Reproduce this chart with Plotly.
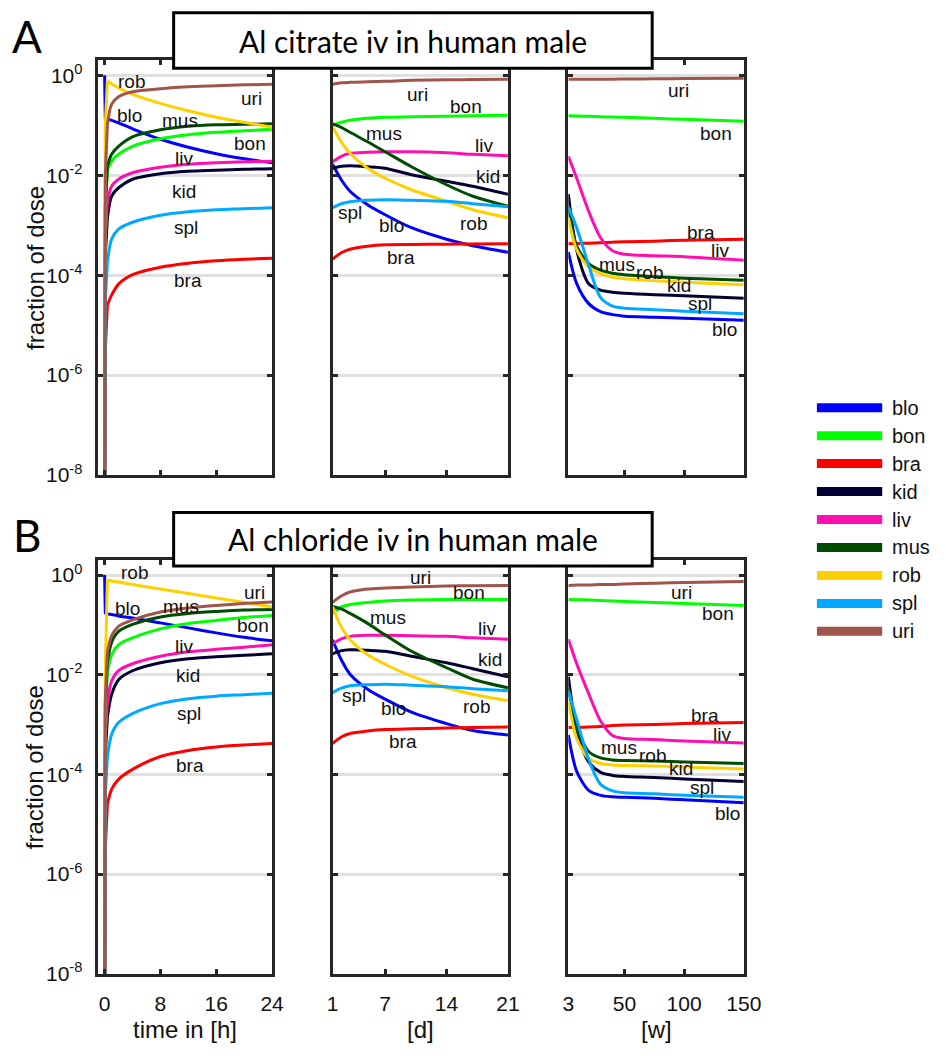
import plotly.graph_objects as go

# ---------------------------------------------------------------------------
# Data: log10 of the fraction of the dose in each compartment.
# -9 marks "nothing yet" (zero amount) and lies below the visible axis range.
# ---------------------------------------------------------------------------
ORGANS = ["blo", "bon", "bra", "kid", "liv", "mus", "rob", "spl", "uri"]

HOURS = [0, 0.1, 0.4, 1, 2, 4, 8, 12, 16, 20, 24]
DAYS = [1, 2, 3, 5, 7, 10, 14, 17, 21]
WEEKS = [3, 10, 20, 30, 40, 50, 75, 100, 150]

# Al citrate, hours
CITRATE_HOURS = {
    "blo": [0, -0.85, -0.87, -0.90, -0.95, -1.07, -1.28, -1.44, -1.57, -1.67, -1.75],
    "bon": [-9, -2.7, -1.90, -1.72, -1.58, -1.42, -1.27, -1.19, -1.14, -1.11, -1.08],
    "bra": [-9, -5.5, -4.60, -4.40, -4.18, -3.99, -3.84, -3.76, -3.71, -3.68, -3.66],
    "kid": [-9, -3.6, -2.85, -2.42, -2.25, -2.08, -1.97, -1.92, -1.90, -1.88, -1.87],
    "liv": [-9, -3.3, -2.55, -2.22, -2.08, -1.95, -1.84, -1.78, -1.75, -1.73, -1.72],
    "mus": [-9, -2.6, -1.82, -1.58, -1.42, -1.23, -1.09, -1.02, -0.99, -0.98, -0.97],
    "rob": [-9, -1.0, -0.11, -0.17, -0.25, -0.38, -0.56, -0.71, -0.84, -0.94, -1.04],
    "spl": [-9, -4.5, -3.75, -3.28, -3.08, -2.94, -2.80, -2.73, -2.69, -2.67, -2.65],
    "uri": [-9, -2.0, -1.00, -0.58, -0.43, -0.33, -0.27, -0.23, -0.21, -0.19, -0.18],
}
# Al citrate, days
CITRATE_DAYS = {
    "blo": [-1.78, -2.09, -2.32, -2.59, -2.79, -3.05, -3.28, -3.41, -3.54],
    "bon": [-1.00, -0.94, -0.90, -0.86, -0.84, -0.83, -0.82, -0.81, -0.80],
    "bra": [-3.68, -3.55, -3.48, -3.42, -3.39, -3.385, -3.38, -3.375, -3.37],
    "kid": [-1.86, -1.82, -1.81, -1.83, -1.86, -1.99, -2.12, -2.22, -2.38],
    "liv": [-1.73, -1.62, -1.56, -1.54, -1.53, -1.53, -1.55, -1.58, -1.61],
    "mus": [-0.97, -1.04, -1.14, -1.33, -1.53, -1.83, -2.19, -2.42, -2.62],
    "rob": [-1.03, -1.33, -1.56, -1.86, -2.06, -2.29, -2.52, -2.69, -2.85],
    "spl": [-2.65, -2.57, -2.53, -2.50, -2.49, -2.50, -2.52, -2.57, -2.63],
    "uri": [-0.18, -0.15, -0.14, -0.13, -0.12, -0.10, -0.09, -0.085, -0.08],
}
# Al citrate, weeks
CITRATE_WEEKS = {
    "blo": [-3.54, -4.17, -4.57, -4.73, -4.79, -4.82, -4.84, -4.86, -4.90],
    "bon": [-0.81, -0.815, -0.82, -0.83, -0.835, -0.84, -0.86, -0.88, -0.92],
    "bra": [-3.37, -3.365, -3.36, -3.35, -3.34, -3.33, -3.32, -3.30, -3.28],
    "kid": [-2.38, -3.50, -4.17, -4.30, -4.34, -4.36, -4.39, -4.41, -4.46],
    "liv": [-1.62, -2.06, -2.72, -3.25, -3.51, -3.58, -3.61, -3.63, -3.70],
    "mus": [-2.62, -3.42, -3.77, -3.90, -3.96, -3.99, -4.03, -4.06, -4.10],
    "rob": [-2.85, -3.49, -3.84, -3.97, -4.04, -4.07, -4.11, -4.14, -4.19],
    "spl": [-2.63, -3.05, -3.80, -4.45, -4.62, -4.66, -4.69, -4.72, -4.77],
    "uri": [-0.08, -0.08, -0.078, -0.077, -0.076, -0.075, -0.07, -0.065, -0.06],
}

# Al chloride, hours
CHLORIDE_HOURS = {
    "blo": [0, -0.76, -0.78, -0.79, -0.82, -0.86, -0.96, -1.06, -1.16, -1.25, -1.32],
    "bon": [-9, -2.8, -1.95, -1.60, -1.40, -1.26, -1.08, -0.97, -0.91, -0.85, -0.81],
    "bra": [-9, -5.5, -4.60, -4.30, -4.10, -3.90, -3.64, -3.52, -3.45, -3.41, -3.38],
    "kid": [-9, -3.6, -2.85, -2.40, -2.10, -1.92, -1.76, -1.68, -1.64, -1.61, -1.58],
    "liv": [-9, -3.3, -2.55, -2.13, -1.92, -1.78, -1.63, -1.54, -1.49, -1.45, -1.40],
    "mus": [-9, -2.6, -1.75, -1.35, -1.13, -0.99, -0.84, -0.77, -0.73, -0.70, -0.69],
    "rob": [-9, -1.9, -0.10, -0.12, -0.14, -0.19, -0.28, -0.37, -0.46, -0.55, -0.64],
    "spl": [-9, -4.4, -3.65, -3.20, -2.96, -2.78, -2.58, -2.48, -2.43, -2.40, -2.37],
    "uri": [-9, -2.5, -1.55, -1.22, -1.03, -0.90, -0.74, -0.66, -0.61, -0.57, -0.54],
}
# Al chloride, days
CHLORIDE_DAYS = {
    "blo": [-1.30, -1.70, -1.99, -2.29, -2.49, -2.75, -2.98, -3.12, -3.21],
    "bon": [-0.77, -0.64, -0.59, -0.55, -0.52, -0.50, -0.49, -0.49, -0.49],
    "bra": [-3.38, -3.25, -3.18, -3.13, -3.10, -3.085, -3.07, -3.06, -3.05],
    "kid": [-1.58, -1.52, -1.50, -1.51, -1.53, -1.63, -1.76, -1.88, -2.04],
    "liv": [-1.38, -1.28, -1.23, -1.21, -1.21, -1.22, -1.23, -1.26, -1.29],
    "mus": [-0.63, -0.68, -0.77, -0.97, -1.20, -1.53, -1.86, -2.09, -2.26],
    "rob": [-0.63, -1.04, -1.30, -1.60, -1.79, -2.03, -2.26, -2.39, -2.52],
    "spl": [-2.36, -2.27, -2.22, -2.20, -2.19, -2.21, -2.24, -2.28, -2.32],
    "uri": [-0.55, -0.42, -0.34, -0.28, -0.26, -0.24, -0.22, -0.215, -0.21],
}
# Al chloride, weeks
CHLORIDE_WEEKS = {
    "blo": [-3.21, -3.94, -4.32, -4.42, -4.45, -4.46, -4.48, -4.51, -4.57],
    "bon": [-0.49, -0.495, -0.50, -0.51, -0.52, -0.53, -0.55, -0.57, -0.61],
    "bra": [-3.06, -3.055, -3.05, -3.04, -3.02, -3.01, -3.00, -2.98, -2.96],
    "kid": [-2.04, -3.10, -3.75, -3.96, -4.02, -4.04, -4.06, -4.09, -4.14],
    "liv": [-1.29, -1.78, -2.38, -2.93, -3.22, -3.28, -3.30, -3.33, -3.37],
    "mus": [-2.26, -3.08, -3.54, -3.67, -3.71, -3.72, -3.73, -3.75, -3.78],
    "rob": [-2.52, -3.28, -3.68, -3.78, -3.81, -3.82, -3.83, -3.85, -3.89],
    "spl": [-2.32, -2.90, -3.70, -4.20, -4.33, -4.37, -4.39, -4.42, -4.46],
    "uri": [-0.21, -0.20, -0.20, -0.19, -0.19, -0.18, -0.165, -0.15, -0.13],
}

TITLES = ["Al citrate iv in human male", "Al chloride iv in human male"]
PANEL_LETTERS = ["A", "B"]

X_TICKS = [[0, 8, 16, 24], [1, 7, 14, 21], [3, 50, 100, 150]]
X_RANGES = [[-1, 24], [1, 21], [3, 150]]
X_TITLES = ["time in [h]", "[d]", "[w]"]
Y_TICKS = [1e-8, 1e-6, 1e-4, 1e-2, 1]
Y_TICKTEXT = ["10<sup>-8</sup>", "10<sup>-6</sup>", "10<sup>-4</sup>",
              "10<sup>-2</sup>", "10<sup>0</sup>"]

COLORS = {
    "blo": "#0000FF", "bon": "#00FF00", "bra": "#FF0000",
    "kid": "#000033", "liv": "#FF0FAF", "mus": "#004C00",
    "rob": "#FFD000", "spl": "#00A8FF", "uri": "#A0554A",
}

# In-plot curve labels: (organ, x in axis units, log10 y)
LABELS = [
    [  # citrate
        [("rob", 3.9, -0.12), ("uri", 21.1, -0.46), ("blo", 3.5, -0.81),
         ("mus", 10.75, -0.91), ("bon", 20.9, -1.37), ("liv", 11.45, -1.66),
         ("kid", 11.45, -2.32), ("spl", 11.7, -3.05), ("bra", 12.0, -4.10)],
        [("uri", 10.7, -0.38), ("bon", 16.2, -0.63), ("mus", 6.9, -1.17),
         ("liv", 18.3, -1.41), ("kid", 18.7, -2.02), ("spl", 3.0, -2.75),
         ("blo", 7.7, -3.01), ("rob", 17.1, -2.97), ("bra", 8.8, -3.64)],
        [("uri", 95.3, -0.30), ("bon", 126.3, -1.17), ("bra", 114.0, -3.15),
         ("liv", 130.4, -3.50), ("mus", 43.8, -3.78), ("rob", 70.8, -3.94),
         ("kid", 96.1, -4.20), ("spl", 113.2, -4.57), ("blo", 133.7, -5.09)],
    ],
    [  # chloride
        [("rob", 4.33, 0.06), ("uri", 21.5, -0.34), ("blo", 3.35, -0.67),
         ("mus", 11.0, -0.63), ("bon", 21.2, -1.01), ("liv", 11.45, -1.43),
         ("kid", 12.0, -2.02), ("spl", 12.15, -2.77), ("bra", 12.3, -3.82)],
        [("uri", 11.0, -0.04), ("bon", 16.6, -0.34), ("mus", 7.3, -0.85),
         ("liv", 18.6, -1.07), ("kid", 19.0, -1.70), ("spl", 3.4, -2.42),
         ("blo", 8.0, -2.67), ("rob", 17.4, -2.63), ("bra", 9.0, -3.33)],
        [("uri", 97.7, -0.34), ("bon", 128.8, -0.77), ("bra", 117.3, -2.81),
         ("liv", 132.0, -3.19), ("mus", 45.5, -3.47), ("rob", 73.2, -3.62),
         ("kid", 97.7, -3.88), ("spl", 114.9, -4.26), ("blo", 136.0, -4.79)],
    ],
]

# ---------------------------------------------------------------------------
# Layout geometry (pixels of the 946 x 1056 page)
# ---------------------------------------------------------------------------
W, H = 946, 1056
COL_PX = [(94, 273), (335, 515), (577, 757)]
ROW_PX = [(61, 480), (566, 984)]
TITLE_BOX_PX = [(172, 13, 663, 69), (172, 518, 663, 572)]

SANS = "Liberation Sans, Arial, Helvetica, sans-serif"
TITLE_FONT = "Lato, Open Sans, sans-serif"
FRAME = "#262626"
TEXT = "#111111"
ONSET = 3  # number of leading samples forming the near-vertical onset


def px(x):
    return x / W


def py(y):
    return 1 - y / H


fig = go.Figure()

series = [
    [(HOURS, CITRATE_HOURS), (DAYS, CITRATE_DAYS), (WEEKS, CITRATE_WEEKS)],
    [(HOURS, CHLORIDE_HOURS), (DAYS, CHLORIDE_DAYS), (WEEKS, CHLORIDE_WEEKS)],
]

annotations = []
shapes = []
layout_axes = {}


def add_curve(xs, logs, color, sfx, shape):
    fig.add_trace(go.Scatter(
        x=xs, y=[10 ** v for v in logs], mode="lines",
        line=dict(color=color, width=3, shape=shape,
                  smoothing=0.8 if shape == "spline" else None),
        xaxis="x" + sfx, yaxis="y" + sfx,
        showlegend=False, hoverinfo="skip",
    ))


for row in range(2):
    for col in range(3):
        idx = row * 3 + col + 1
        sfx = "" if idx == 1 else str(idx)
        xt, table = series[row][col]
        for organ in ORGANS:
            logs = table[organ]
            if col == 0:
                # straight onset right after the dose, then a smooth curve
                add_curve(xt[:ONSET], logs[:ONSET], COLORS[organ], sfx, "linear")
                add_curve(xt[ONSET - 1:], logs[ONSET - 1:], COLORS[organ], sfx, "spline")
            else:
                add_curve(xt, logs, COLORS[organ], sfx, "spline")

        x0, x1 = COL_PX[col]
        y0, y1 = ROW_PX[row]
        layout_axes["xaxis" + sfx] = dict(
            domain=[px(x0), px(x1)], range=X_RANGES[col],
            tickmode="array", tickvals=X_TICKS[col],
            ticktext=[str(v) for v in X_TICKS[col]],
            showticklabels=(row == 1),
            ticks="inside", ticklen=5, tickwidth=2.5, tickcolor=FRAME,
            showline=True, linewidth=3, linecolor=FRAME, mirror="ticks",
            showgrid=False, zeroline=False, anchor="y" + sfx,
            tickfont=dict(family=SANS, size=21, color=TEXT),
            ticklabelstandoff=9, fixedrange=True,
        )
        layout_axes["yaxis" + sfx] = dict(
            domain=[py(y1), py(y0)], type="log", range=[-8, 0.3],
            tickmode="array", tickvals=Y_TICKS, ticktext=Y_TICKTEXT,
            showticklabels=(col == 0),
            ticks="inside", ticklen=5, tickwidth=2.5, tickcolor=FRAME,
            showline=True, linewidth=3, linecolor=FRAME, mirror="ticks",
            showgrid=True, gridcolor="#E0E0E0", gridwidth=3,
            zeroline=False, anchor="x" + sfx,
            tickfont=dict(family=SANS, size=21, color=TEXT),
            ticklabelstandoff=8, fixedrange=True,
        )

        for organ, lx, ly in LABELS[row][col]:
            annotations.append(dict(
                x=lx, y=ly, xref="x" + sfx, yref="y" + sfx,
                text=organ, showarrow=False,
                font=dict(family=SANS, size=19, color=TEXT),
                xanchor="center", yanchor="middle",
            ))

    # boxed panel title
    bx0, by0, bx1, by1 = TITLE_BOX_PX[row]
    shapes.append(dict(
        type="rect", xref="paper", yref="paper",
        x0=px(bx0), x1=px(bx1), y0=py(by1), y1=py(by0),
        line=dict(color="black", width=3), fillcolor="white", layer="above",
    ))
    annotations.append(dict(
        x=px((bx0 + bx1) / 2), y=py((by0 + by1) / 2), xref="paper", yref="paper",
        text=TITLES[row], showarrow=False,
        font=dict(family=TITLE_FONT, size=30, color="black"),
        xanchor="center", yanchor="middle",
    ))
    # panel letter
    annotations.append(dict(
        x=px(22), y=py(by0 + 23), xref="paper", yref="paper",
        text=PANEL_LETTERS[row], showarrow=False,
        font=dict(family=TITLE_FONT, size=44, color="black"),
        xanchor="center", yanchor="middle",
    ))
    # y-axis title
    annotations.append(dict(
        x=px(30), y=py((ROW_PX[row][0] + ROW_PX[row][1]) / 2),
        xref="paper", yref="paper", text="fraction of dose", textangle=-90,
        showarrow=False, font=dict(family=SANS, size=24, color=TEXT),
        xanchor="center", yanchor="middle",
    ))

# x-axis titles under the lower row
for col in range(3):
    x0, x1 = COL_PX[col]
    annotations.append(dict(
        x=px((x0 + x1) / 2), y=py(1040), xref="paper", yref="paper",
        text=X_TITLES[col], showarrow=False,
        font=dict(family=SANS, size=24, color=TEXT),
        xanchor="center", yanchor="middle",
    ))

# legend drawn as thick line samples with labels
LEG_X0, LEG_X1, LEG_TX, LEG_Y0, LEG_DY = 832, 899, 907, 412, 28.25
for i, organ in enumerate(ORGANS):
    yy = LEG_Y0 + i * LEG_DY
    shapes.append(dict(
        type="line", xref="paper", yref="paper",
        x0=px(LEG_X0), x1=px(LEG_X1), y0=py(yy), y1=py(yy),
        line=dict(color=COLORS[organ], width=9),
    ))
    annotations.append(dict(
        x=px(LEG_TX), y=py(yy), xref="paper", yref="paper",
        text=organ, showarrow=False,
        font=dict(family=SANS, size=20, color=TEXT),
        xanchor="left", yanchor="middle",
    ))

fig.update_layout(
    width=W, height=H,
    margin=dict(l=0, r=0, t=0, b=0),
    paper_bgcolor="white", plot_bgcolor="white",
    showlegend=False,
    annotations=annotations, shapes=shapes,
    **layout_axes,
)

fig.write_html("out.html", config={"displayModeBar": False})
